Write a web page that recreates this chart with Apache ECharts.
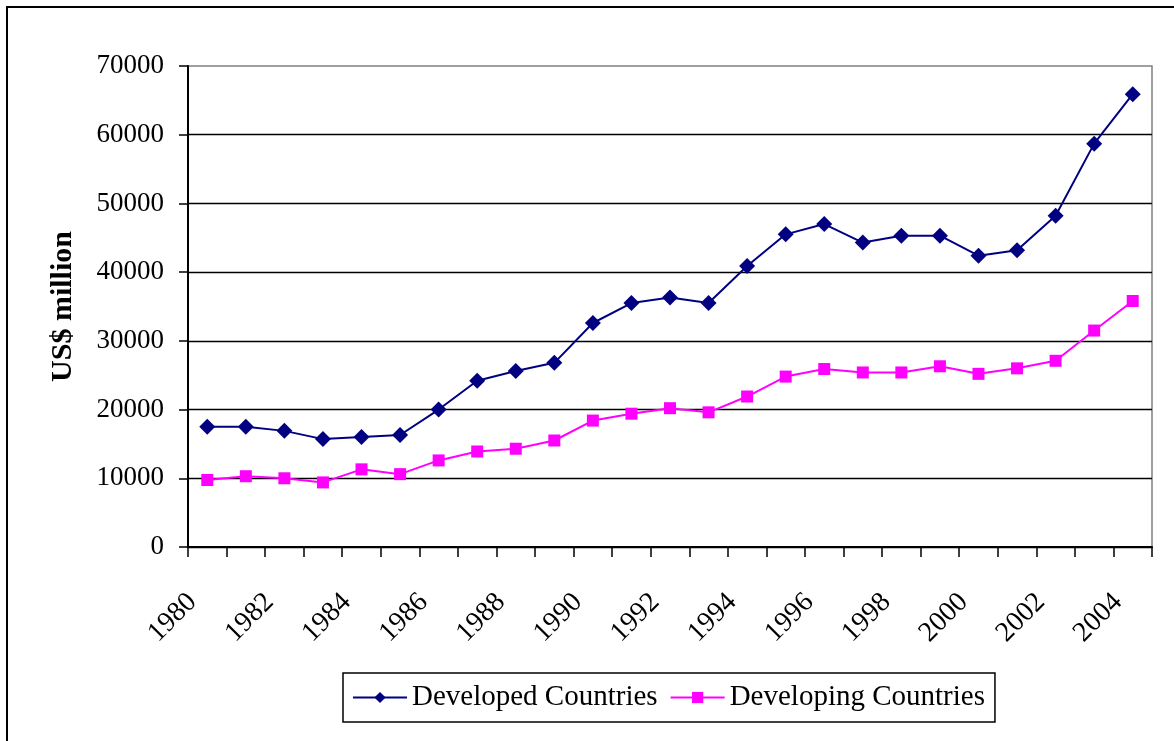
<!DOCTYPE html>
<html>
<head>
<meta charset="utf-8">
<script src="https://cdn.jsdelivr.net/npm/echarts@6/dist/echarts.min.js"></script>
<style>
  html, body { margin: 0; padding: 0; background: #fff; }
  #chart { width: 1174px; height: 741px; }
</style>
</head>
<body>
<div id="chart"></div>
<script>
// data
const years = ['1980', '1981', '1982', '1983', '1984', '1985', '1986', '1987', '1988', '1989',
  '1990', '1991', '1992', '1993', '1994', '1995', '1996', '1997', '1998', '1999',
  '2000', '2001', '2002', '2003', '2004']
const developed = [17500, 17500, 16900, 15700, 16000, 16300, 20000, 24200, 25600, 26800,
  32600, 35500, 36300, 35500, 40900, 45500, 47000, 44300, 45300, 45300,
  42400, 43200, 48200, 58700, 65900]
const developing = [9750, 10300, 10000, 9400, 11300, 10600, 12600, 13900, 14300, 15500,
  18400, 19400, 20200, 19600, 21900, 24800, 25900, 25400, 25400, 26300,
  25200, 26000, 27100, 31500, 35800]
const yTicks = { min: 0, max: 70000, step: 10000 }

const font = '"Liberation Serif", "Times New Roman", serif'
const chart = echarts.init(document.getElementById('chart'))

chart.setOption({
  animation: false,
  textStyle: { fontFamily: font, color: '#000' },
  graphic: [{
    type: 'rect',
    shape: { x: 7, y: 7, width: 1300, height: 900 },
    style: { fill: 'none', stroke: '#000', lineWidth: 2 },
    silent: true
  }],
  grid: {
    left: 188, right: 22, top: 66, bottom: 194,
    show: true, borderColor: '#808080', borderWidth: 1.5,
    containLabel: false
  },
  legend: {
    left: 343, top: 673,
    padding: [10, 10, 10, 9],
    itemGap: 12,
    itemWidth: 54, itemHeight: 14,
    borderColor: '#000', borderWidth: 1.5,
    textStyle: { fontFamily: font, fontSize: 29, color: '#000' },
    data: ['Developed Countries', 'Developing Countries']
  },
  xAxis: {
    type: 'category',
    data: years,
    boundaryGap: true,
    axisLine: { lineStyle: { color: '#000', width: 2 } },
    axisTick: { show: true, interval: 0, length: 10, lineStyle: { color: '#000', width: 1.5 } },
    axisLabel: {
      interval: 1, rotate: 45, margin: 36,
      padding: [0, 21, 0, 0],
      fontFamily: font, fontSize: 28, color: '#000'
    },
    splitLine: { show: false }
  },
  yAxis: {
    type: 'value',
    min: yTicks.min, max: yTicks.max, interval: yTicks.step,
    name: 'US$ million',
    nameLocation: 'middle',
    nameGap: 110,
    nameTextStyle: { fontFamily: font, fontSize: 30, fontWeight: 'bold', color: '#000' },
    axisLine: { show: true, lineStyle: { color: '#000', width: 2 } },
    axisTick: { show: true, length: 9, lineStyle: { color: '#000', width: 1.5 } },
    axisLabel: {
      margin: 24, fontFamily: font, fontSize: 27, color: '#000',
      formatter: v => String(v)
    },
    splitLine: { show: true, showMaxLine: false, lineStyle: { color: '#000', width: 1.3 } }
  },
  series: [
    {
      name: 'Developed Countries',
      type: 'line',
      data: developed,
      symbol: 'diamond',
      symbolSize: 16,
      lineStyle: { color: '#000080', width: 2 },
      itemStyle: { color: '#000080' }
    },
    {
      name: 'Developing Countries',
      type: 'line',
      data: developing,
      symbol: 'rect',
      symbolSize: 12,
      lineStyle: { color: '#ff00ff', width: 2 },
      itemStyle: { color: '#ff00ff' }
    }
  ]
})
</script>
</body>
</html>
